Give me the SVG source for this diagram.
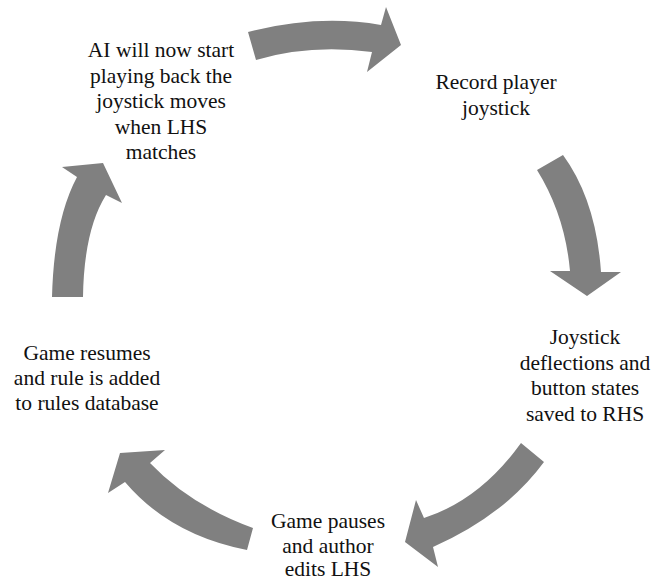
<svg xmlns="http://www.w3.org/2000/svg" width="654" height="581" viewBox="0 0 654 581">
<style>
.arrow{fill:#808080;stroke:none}
.lbl{font-family:"Liberation Serif","Times New Roman",serif;font-size:21.5px;fill:#111;text-anchor:middle}
</style>
<rect width="654" height="581" fill="#fff"/>
<g id="connectors">
<path class="arrow" d="M248,32 Q318,14 381,25 L386,7 L401,45 L367,72 L372,52 Q310,44 256,60 Z"/>
<path class="arrow" d="M537,170 Q565,215 570,271 L550,271 L587,296 L621,272 L601,272 Q596,200 563,155 Z"/>
<path class="arrow" d="M521,443 Q480,500 424,518 L416,500 L405,542 L438,567 L433,547 Q505,515 544,462 Z"/>
<path class="arrow" d="M253,528 Q190,505 150,463 L165,450 L120,453 L108,493 L125,482 Q170,535 247,550 Z"/>
<path class="arrow" d="M52,297 Q54,220 77,177 L62,167 L103,163 L122,203 L106,195 Q84,230 83,297 Z"/>
</g>
<g id="node-ai">
<text class="lbl" x="161" y="57">AI will now start</text>
<text class="lbl" x="161" y="82.5">playing back the</text>
<text class="lbl" x="161" y="108">joystick moves</text>
<text class="lbl" x="161" y="133.5">when LHS</text>
<text class="lbl" x="161" y="159">matches</text>
</g>
<g id="node-record">
<text class="lbl" x="496" y="89">Record player</text>
<text class="lbl" x="496" y="114.5">joystick</text>
</g>
<g id="node-joystick">
<text class="lbl" x="585" y="344">Joystick</text>
<text class="lbl" x="585" y="369.5">deflections and</text>
<text class="lbl" x="585" y="395">button states</text>
<text class="lbl" x="585" y="420.5">saved to RHS</text>
</g>
<g id="node-pause">
<text class="lbl" x="328" y="528">Game pauses</text>
<text class="lbl" x="328" y="552.5">and author</text>
<text class="lbl" x="328" y="576">edits LHS</text>
</g>
<g id="node-resume">
<text class="lbl" x="87" y="360">Game resumes</text>
<text class="lbl" x="87" y="385">and rule is added</text>
<text class="lbl" x="87" y="410">to rules database</text>
</g>
</svg>
